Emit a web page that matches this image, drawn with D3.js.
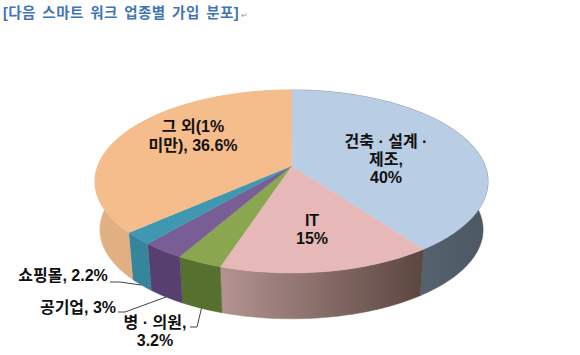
<!DOCTYPE html>
<html lang="ko">
<head>
  <meta charset="UTF-8">
  <title>스마트 워크 업종별 가입 분포</title>
  <script src="https://d3js.org/d3.v7.min.js"></script>
  <style>
    html, body { margin: 0; padding: 0; background: #fff; }
    svg { display: block; font-family: "Liberation Sans", "Noto Sans CJK KR", sans-serif; }
    .title { font-size: 14.5px; font-weight: bold; fill: #3f74b8; letter-spacing: 0.45px; word-spacing: 2px; }
    .label { font-size: 16px; font-weight: bold; fill: #111; text-anchor: middle; }
    .leader { fill: none; stroke: #444; stroke-width: 1px; }
  </style>
</head>
<body>
  <svg width="580" height="355"></svg>

  <script>
    const sectors = ["건축 · 설계 · 제조", "IT", "병 · 의원", "공기업", "쇼핑몰", "그 외(1% 미만)"];
    const shares = [40, 15, 3.2, 3, 2.2, 36.6];
    const labelLines = [
      ["건축 · 설계 ·", "제조,", "40%"],
      ["IT", "15%"],
      ["병 · 의원,", "3.2%"],
      ["공기업, 3%"],
      ["쇼핑몰, 2.2%"],
      ["그 외(1%", "미만), 36.6%"]
    ];
    const titleText = "[다음 스마트 워크 업종별 가입 분포]";

    const topColors = ["#b9cde5", "#e6b9b8", "#8aa64f", "#785e94", "#3f97b2", "#f6bd8c"];
    const sideColors = [
      ["#56626e", "#4b5762"],
      ["#b39391", "#5b4640"],
      ["#56702f", "#56702f"],
      ["#57406f", "#57406f"],
      ["#37859c", "#37859c"],
      ["#e2b184", "#dfad7e"]
    ];

    const svg = d3.select("svg");

    svg.append("text").attr("class", "title")
      .attr("x", 3).attr("y", 18)
      .text(titleText);
    svg.append("text")
      .attr("x", 241).attr("y", 18)
      .attr("font-size", 8).attr("fill", "#999")
      .text("↵");

    // perspective view of the disc: nearer edge drawn larger than the far one
    const apex = { x: 291.5, y: 166 };
    const persp = 0.169, spanX = 193.7, spanY = 88.9;
    const bottomScale = 0.975, bottomDrop = 48.5;

    function project(angle, r = 1) {
      const u = r * Math.sin(angle), v = -r * Math.cos(angle);
      const w = 1 - persp * v;
      return [apex.x + spanX * u / w, apex.y + spanY * v / w];
    }
    function projectBottom(angle) {
      const [x, y] = project(angle);
      return [apex.x + (x - apex.x) * bottomScale, apex.y + bottomDrop + (y - apex.y) * bottomScale];
    }
    function arcPoints(a0, a1, fn) {
      const n = Math.max(2, Math.ceil((a1 - a0) / 0.02));
      return d3.range(n + 1).map(i => fn(a0 + (a1 - a0) * i / n));
    }

    const pie = d3.pie().sort(null).value(d => d)(shares);
    const line = d3.line();
    const defs = svg.append("defs");

    // side wall first, top faces go over it
    const sides = svg.append("g");
    pie.forEach((d, i) => {
      const top = arcPoints(d.startAngle, d.endAngle, project);
      const bot = arcPoints(d.startAngle, d.endAngle, projectBottom).reverse();
      const front = top.concat(bot).filter(p => p[1] > apex.y);
      const grad = defs.append("linearGradient")
        .attr("id", "side" + i)
        .attr("gradientUnits", "userSpaceOnUse")
        .attr("x1", d3.min(front, p => p[0])).attr("y1", 0)
        .attr("x2", d3.max(front, p => p[0])).attr("y2", 0);
      grad.append("stop").attr("offset", 0).attr("stop-color", sideColors[i][0]);
      grad.append("stop").attr("offset", 1).attr("stop-color", sideColors[i][1]);
      sides.append("path")
        .attr("d", line(top.concat(bot)) + "Z")
        .attr("fill", `url(#side${i})`)
        .attr("stroke", `url(#side${i})`)
        .attr("stroke-width", 0.5);
    });

    const faces = svg.append("g");
    pie.forEach((d, i) => {
      const pts = [[apex.x, apex.y]].concat(arcPoints(d.startAngle, d.endAngle, project));
      faces.append("path")
        .attr("d", line(pts) + "Z")
        .attr("fill", topColors[i])
        .attr("stroke", topColors[i])
        .attr("stroke-width", 0.4);
    });

    // label anchors: [centre x, first baseline]
    const labelPos = [[386, 147], [312, 226], [155, 328], [78, 313], [63, 281], [193, 132]];
    const lineGap = [18, 18, 18, 0, 0, 19];
    labelLines.forEach((lines, i) => {
      const t = svg.append("text").attr("class", "label")
        .attr("x", labelPos[i][0]).attr("y", labelPos[i][1]);
      lines.forEach((s, j) => {
        t.append("tspan")
          .attr("x", labelPos[i][0])
          .attr("dy", j ? lineGap[i] : 0)
          .text(s);
      });
    });

    // leader lines from the small slices' lower rim to their labels
    const mid = d => (d.startAngle + d.endAngle) / 2;
    const leaderStart = { 2: [190, 327], 3: [118, 312], 4: [110, 282] };
    const leaderElbow = { 2: [197, 327], 3: [125, 312], 4: [120, 282] };
    Object.keys(leaderStart).forEach(i => {
      svg.append("path").attr("class", "leader")
        .attr("d", line([leaderStart[i], leaderElbow[i], projectBottom(mid(pie[i]))]));
    });
  </script>
</body>
</html>
